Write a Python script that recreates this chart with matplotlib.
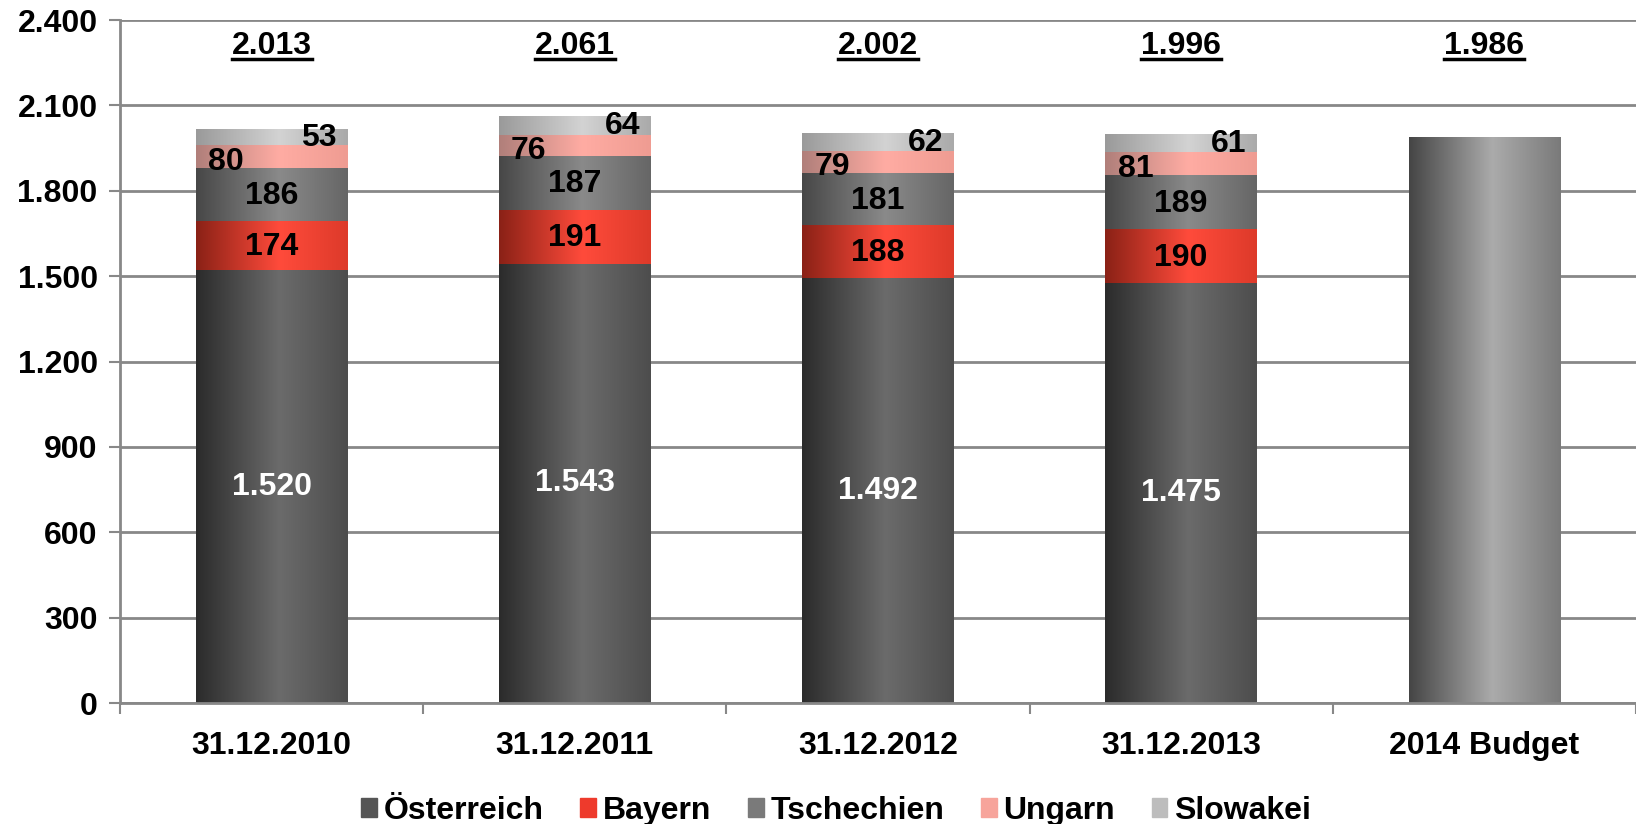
import matplotlib
matplotlib.use("Agg")
import matplotlib.pyplot as plt
import numpy as np
from matplotlib.colors import LinearSegmentedColormap
from matplotlib.patches import Rectangle

plt.rcParams['font.family'] = ['Liberation Sans', 'DejaVu Sans']
plt.rcParams['font.weight'] = 'bold'

categories = ['31.12.2010', '31.12.2011', '31.12.2012', '31.12.2013', '2014 Budget']
series = ['Österreich', 'Bayern', 'Tschechien', 'Ungarn', 'Slowakei']
oesterreich = [1520, 1543, 1492, 1475]
bayern = [174, 191, 188, 190]
tschechien = [186, 187, 181, 189]
ungarn = [80, 76, 79, 81]
slowakei = [53, 64, 62, 61]
totals = [2013, 2061, 2002, 1996, 1986]
budget = 1986
yticks = [0, 300, 600, 900, 1200, 1500, 1800, 2100, 2400]

# gradient stops (left, middle, right) per series
grads = {
    'Österreich': ['#2b2b2b', '#6b6b6b', '#4d4d4d'],
    'Bayern': ['#8a2116', '#ff4b3b', '#dd3a2a'],
    'Tschechien': ['#474747', '#8a8a8a', '#666666'],
    'Ungarn': ['#b07f7a', '#ffaca3', '#ef9c92'],
    'Slowakei': ['#9a9a9a', '#d3d3d3', '#aaaaaa'],
    'Budget': ['#454545', '#ababab', '#7a7a7a'],
}
legend_cols = ['#555555', '#ee3a2c', '#7a7a7a', '#f7a49b', '#bdbdbd']


def fmt(v):
    return f'{v:,}'.replace(',', '.')


fig = plt.figure(figsize=(16.36, 8.24), dpi=100)
ax = fig.add_axes([0.0733, 0.1468, 0.9267, 0.8289])
ax.set_xlim(-0.5, 4.5)
ax.set_ylim(0, 2400)
w = 0.5
fs = 23


def gbar(x, y0, h, stops):
    cmap = LinearSegmentedColormap.from_list('g', [(0, stops[0]), (0.55, stops[1]), (1, stops[2])])
    grad = np.linspace(0, 1, 256).reshape(1, -1)
    ax.imshow(grad, cmap=cmap, extent=[x - w / 2, x + w / 2, y0, y0 + h],
              aspect='auto', interpolation='bilinear', zorder=2)


data = [oesterreich, bayern, tschechien, ungarn, slowakei]
for i in range(4):
    bottom = 0
    for s, vals in zip(series, data):
        v = vals[i]
        gbar(i, bottom, v, grads[s])
        mid = bottom + v / 2
        if s == 'Österreich':
            ax.text(i, mid, fmt(v), color='white', ha='center', va='center', fontsize=fs, zorder=5)
        elif s == 'Ungarn':
            ax.text(i - w / 2 + 0.04, mid - 18, fmt(v), ha='left', va='center', fontsize=fs, zorder=5)
        elif s == 'Slowakei':
            ax.text(i + w / 2 - 0.035, mid - 2, fmt(v), ha='right', va='center', fontsize=fs, zorder=5)
        else:
            ax.text(i, mid - 5, fmt(v), ha='center', va='center', fontsize=fs, zorder=5)
        bottom += v
gbar(4, 0, budget, grads['Budget'])

total_texts = []
for i, t in enumerate(totals):
    total_texts.append(ax.text(i, 2310, fmt(t), ha='center', va='center', fontsize=fs, zorder=5))

ax.set_yticks(yticks)
ax.set_yticklabels([fmt(v) for v in yticks], fontsize=23)
ax.set_xticks(range(5))
ax.set_xticklabels(categories, fontsize=23)
ax.set_xticks(np.arange(-0.5, 5, 1), minor=True)
ax.tick_params(axis='x', which='major', length=0, pad=20)
ax.tick_params(axis='x', which='minor', length=8, color='#888888', width=1.5, direction='out')
ax.tick_params(axis='y', length=8, color='#888888', width=1.5, pad=8)
ax.grid(axis='y', color='#888888', linewidth=2)
ax.set_axisbelow(True)
for sp in ['top', 'right']:
    ax.spines[sp].set_visible(False)
for sp in ['left', 'bottom']:
    ax.spines[sp].set_color('#888888')
    ax.spines[sp].set_linewidth(2)

handles = [Rectangle((0, 0), 1, 1, color=c) for c in legend_cols]
fig.legend(handles, series, loc='center', bbox_to_anchor=(0.511, 0.016), ncol=5, frameon=False,
           fontsize=fs, handlelength=0.5, handleheight=0.5, handletextpad=0.2, columnspacing=1.15)

# underline totals
fig.canvas.draw()
r = fig.canvas.get_renderer()
inv = ax.transData.inverted()
for t in total_texts:
    bb = t.get_window_extent(r)
    (x0, y0), (x1, _) = inv.transform([(bb.x0, bb.y0), (bb.x1, bb.y0)])
    ax.plot([x0, x1], [y0 + 5, y0 + 5], color='black', linewidth=2.5, clip_on=False, zorder=5)

fig.savefig('out.png', dpi=100)
